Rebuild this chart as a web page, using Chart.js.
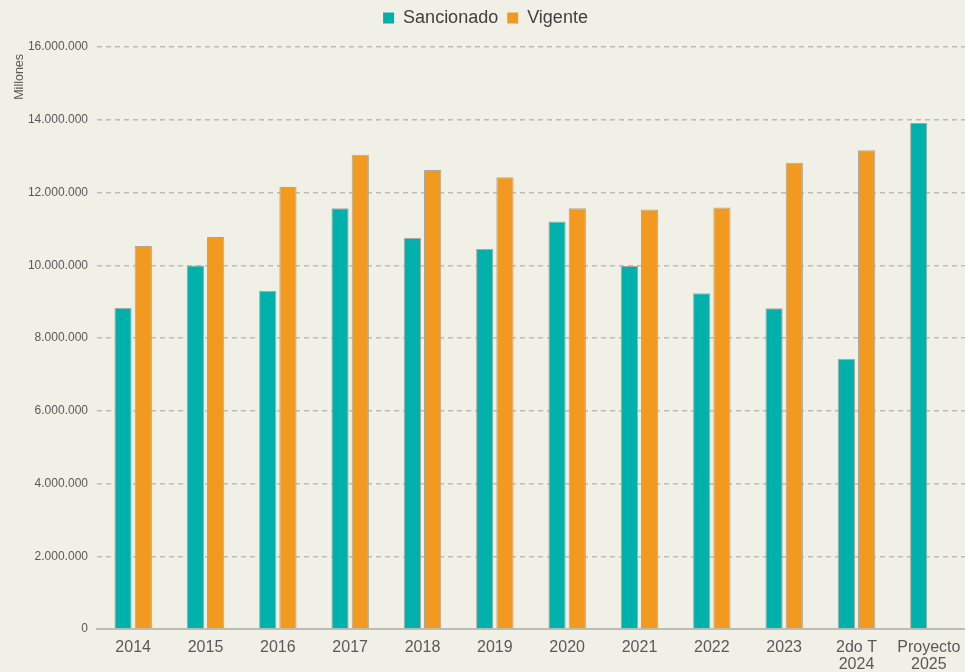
<!DOCTYPE html>
<html>
<head>
<meta charset="utf-8">
<script src="https://cdn.jsdelivr.net/npm/chart.js@4"></script>
<style>
  html, body { margin: 0; padding: 0; background: #f1f0e6; }
  #wrap { width: 965px; height: 672px; position: relative; }
</style>
</head>
<body>
<div id="wrap"><canvas id="chart"></canvas></div>
<script>
// categories and series (values in pesos, axis reads "Millones")
const categories = ['2014', '2015', '2016', '2017', '2018', '2019', '2020', '2021', '2022', '2023', ['2do T', '2024'], ['Proyecto', '2025']];
const sancionado = [8830000, 9990000, 9300000, 11570000, 10750000, 10450000, 11200000, 9980000, 9230000, 8820000, 7430000, 13910000];
const vigente = [10530000, 10780000, 12150000, 13040000, 12620000, 12420000, 11570000, 11530000, 11590000, 12820000, 13160000, null];
const yTicks = [0, 2000000, 4000000, 6000000, 8000000, 10000000, 12000000, 14000000, 16000000];

const fontFamily = '"Liberation Sans", Arial, sans-serif';

function fmt(v) {
    return v.toString().replace(/\B(?=(\d{3})+(?!\d))/g, '.');
}

// extra room between legend and plot
const legendMargin = {
    id: 'legendMargin',
    beforeInit(chart) {
        const fit = chart.legend.fit;
        chart.legend.fit = function () {
            fit.bind(chart.legend)();
            this.height += 10;
        };
    }
};

const ctx = document.getElementById('chart').getContext('2d');
new Chart(ctx, {
    type: 'bar',
    data: {
        labels: categories,
        datasets: [
            {
                label: 'Sancionado',
                data: sancionado,
                backgroundColor: '#00b0aa',
                borderColor: '#a8a8a0',
                borderWidth: 1,
                barPercentage: 0.85,
                categoryPercentage: 0.56
            },
            {
                label: 'Vigente',
                data: vigente,
                backgroundColor: '#f29a1f',
                borderColor: '#a8a8a0',
                borderWidth: 1,
                barPercentage: 0.85,
                categoryPercentage: 0.56
            }
        ]
    },
    plugins: [legendMargin],
    options: {
        responsive: true,
        maintainAspectRatio: false,
        animation: false,
        layout: { padding: { top: 0, right: 0, left: 6, bottom: 0 } },
        plugins: {
            legend: {
                position: 'top',
                labels: {
                    boxWidth: 11,
                    boxHeight: 11,
                    padding: 9,
                    color: '#404040',
                    font: { family: fontFamily, size: 18 },
                    generateLabels: function (chart) {
                        return chart.data.datasets.map((ds, i) => ({
                            text: ds.label,
                            fillStyle: ds.backgroundColor,
                            strokeStyle: ds.backgroundColor,
                            lineWidth: 0,
                            fontColor: '#404040',
                            datasetIndex: i,
                            hidden: false
                        }));
                    }
                }
            },
            tooltip: { enabled: false }
        },
        scales: {
            x: {
                grid: { display: false, drawTicks: false },
                border: { display: true, color: '#bdbdb5', width: 2 },
                ticks: {
                    color: '#595959',
                    font: { family: fontFamily, size: 16, lineHeight: 1.08 },
                    padding: 10,
                    maxRotation: 0
                },
                afterFit: function (axis) {
                    axis.height = 43;
                    axis.paddingLeft = 0;
                    axis.paddingRight = 0;
                }
            },
            y: {
                min: 0,
                max: 16000000,
                afterBuildTicks: function (axis) {
                    axis.ticks = yTicks.map(v => ({ value: v }));
                },
                afterFit: function (axis) { axis.width = 91; },
                border: { display: false, dash: [5, 4] },
                grid: {
                    color: '#bcbcb4',
                    lineWidth: 1.5,
                    drawTicks: false
                },
                ticks: {
                    color: '#595959',
                    font: { family: fontFamily, size: 12 },
                    padding: 9,
                    callback: function (v) { return fmt(v); }
                },
                title: {
                    display: true,
                    text: 'Millones  ',
                    align: 'end',
                    color: '#595959',
                    font: { family: fontFamily, size: 12.5, lineHeight: 1.2 },
                    padding: { top: 6, bottom: 2 }
                }
            }
        }
    }
});
</script>
</body>
</html>
